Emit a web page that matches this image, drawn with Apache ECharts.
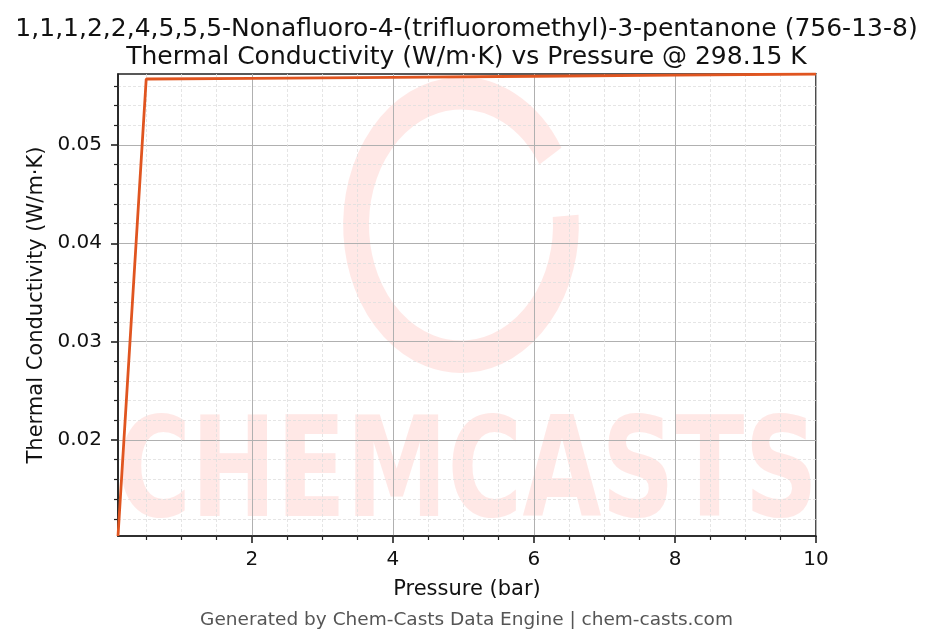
<!DOCTYPE html>
<html>
<head>
<meta charset="utf-8">
<script src="https://cdn.jsdelivr.net/npm/echarts@6/dist/echarts.min.js"></script>
<style>html,body{margin:0;padding:0;background:#fff}#c{width:933px;height:644px}</style>
</head>
<body>
<div id="c"></div>
<script>
// ---- data ----
const pressures = [0.1, 0.5, 2, 4, 6, 8, 10];
const conductivity = [0.01025, 0.05669, 0.05675, 0.05685, 0.05697, 0.05708, 0.0572];
const xMajorTicks = [2, 4, 6, 8, 10];
const xMinorTicks = [0.5, 1, 1.5, 2.5, 3, 3.5, 4.5, 5, 5.5, 6.5, 7, 7.5, 8.5, 9, 9.5];
const yMajorTicks = [0.02, 0.03, 0.04, 0.05];
const yMinorTicks = [0.012, 0.014, 0.016, 0.018, 0.022, 0.024, 0.026, 0.028, 0.032, 0.034, 0.036, 0.038, 0.042, 0.044, 0.046, 0.048, 0.052, 0.054, 0.056];
const titleLines = ['1,1,1,2,2,4,5,5,5-Nonafluoro-4-(trifluoromethyl)-3-pentanone (756-13-8)', 'Thermal Conductivity (W/m·K) vs Pressure @ 298.15 K'];
const xName = 'Pressure (bar)';
const yName = 'Thermal Conductivity (W/m·K)';
const footer = 'Generated by Chem-Casts Data Engine | chem-casts.com';

const FONT = 'DejaVu Sans';
const chart = echarts.init(document.getElementById('c'), null, {renderer: 'canvas'});
const seriesData = pressures.map((p, i) => [p, conductivity[i]]);
const xMin = pressures[0], xMax = pressures[pressures.length - 1];
const yMin = Math.min(...conductivity), yMax = Math.max(...conductivity);

const majorAxis = (ticks, margin, extra) => Object.assign({
  type: 'value',
  axisLine: {show: true, onZero: false, lineStyle: {color: '#222', width: 1.6}},
  axisTick: {show: true, inside: false, length: 7, customValues: ticks, lineStyle: {color: '#222', width: 1.6}},
  axisLabel: {customValues: ticks, color: '#111', fontFamily: FONT, fontSize: 20, margin: margin},
  splitLine: {show: true, lineStyle: {color: '#b0b0b0', width: 1}},
  minorTick: {show: false},
  minorSplitLine: {show: false}
}, extra);
const minorAxis = (ticks, extra) => Object.assign({
  type: 'value',
  axisLine: {show: false, onZero: false},
  axisTick: {show: true, inside: false, length: 4, customValues: ticks, lineStyle: {color: '#222', width: 1.2}},
  axisLabel: {show: false, customValues: ticks},
  splitLine: {show: true, lineStyle: {color: '#dedede', width: 0.8, type: [3, 2]}}
}, extra);

chart.setOption({
  backgroundColor: '#fff',
  animation: false,
  title: [
    {text: titleLines.join('\n'), left: 'center', top: 10, textStyle: {fontFamily: FONT, fontSize: 25, fontWeight: 'normal', color: '#111', lineHeight: 28}},
    {text: footer, left: 'center', top: 606, textStyle: {fontFamily: FONT, fontSize: 18.5, fontWeight: 'normal', color: '#555'}}
  ],
  grid: {left: 118, right: 117, top: 74, bottom: 108, show: true, borderColor: '#222', borderWidth: 1.6, backgroundColor: 'transparent'},
  xAxis: [
    majorAxis(xMajorTicks, 14, {min: xMin, max: xMax, position: 'bottom', name: xName, nameLocation: 'middle', nameGap: 43,
      nameTextStyle: {fontFamily: FONT, fontSize: 21, color: '#111'}}),
    minorAxis(xMinorTicks, {min: xMin, max: xMax, position: 'bottom'})
  ],
  yAxis: [
    majorAxis(yMajorTicks, 16, {min: yMin, max: yMax, position: 'left', name: yName, nameLocation: 'middle', nameGap: 69,
      nameTextStyle: {fontFamily: FONT, fontSize: 21, color: '#111'}}),
    minorAxis(yMinorTicks, {min: yMin, max: yMax, position: 'left'})
  ],
  graphic: [
    {type: 'arc', z: -10, silent: true, x: 461, y: 225, scaleX: 0.86, scaleY: 1.08,
      shape: {cx: 0, cy: 0, r: 122, startAngle: -0.07, endAngle: -0.55 + Math.PI * 2, clockwise: true},
      style: {stroke: 'rgba(255,210,205,0.5)', lineWidth: 30, fill: null}},
    {type: 'text', z: -10, silent: true, x: 467, y: 480, scaleX: 0.75, scaleY: 1.02,
      style: {text: 'CHEMCASTS', font: 'bold 136px "DejaVu Sans"', fill: 'rgba(255,210,205,0.5)', align: 'center', verticalAlign: 'middle'}}
  ],
  series: [{
    type: 'line', xAxisIndex: 0, yAxisIndex: 0, data: seriesData, showSymbol: false, z: 5,
    lineStyle: {color: '#e05520', width: 2.8}
  }]
});
</script>
</body>
</html>
